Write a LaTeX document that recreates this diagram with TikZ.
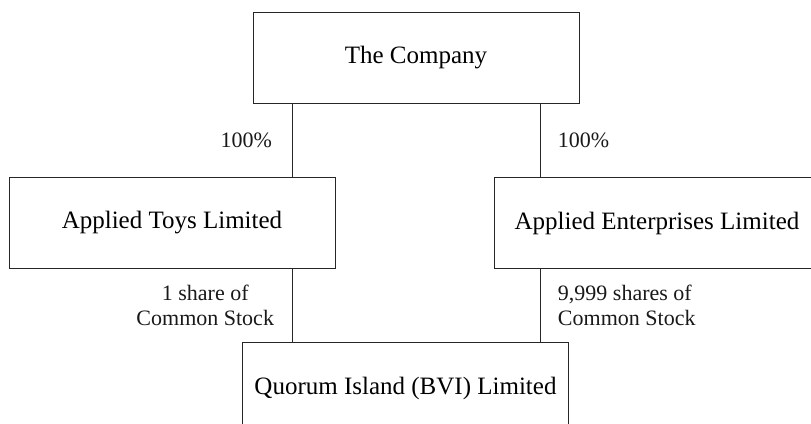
\documentclass[tikz,border=0pt]{standalone}
\usepackage{fontspec}
\setmainfont{Liberation Serif}
\usetikzlibrary{positioning}

\begin{document}
\begin{tikzpicture}[
		entity/.style={rectangle, draw=black!85, line width=0.5pt, minimum width=163pt, minimum height=45.5pt, inner sep=0pt, font=\fontsize{12.5}{15}\selectfont},
		holding/.style={font=\fontsize{11}{12.5}\selectfont, align=center, inner sep=0pt, text=black!90},
		link/.style={draw=black!85, line width=0.5pt}
		]
		\useasboundingbox (0,0) rectangle (405.5pt,-212pt);
		\clip (0,0) rectangle (405.5pt,-212pt);
		\node [entity] (company) at (208pt,-29pt) {The Company};
		\node [entity] (toys) [below=36.5pt of company, xshift=-122pt] {Applied Toys Limited};
		\node [entity] (enterprises) [below=36.5pt of company, xshift=120.5pt] {Applied Enterprises Limited};
		\node [entity] (quorum) [below=36.5pt of toys, xshift=116.75pt] {Quorum Island (BVI) Limited};
		
		\coordinate (left line) at ([xshift=20pt]company.south west);
		\coordinate (right line) at ([xshift=-19.5pt]company.south east);
		
		\path [link] (left line) -- (left line |- toys.north) node [holding, midway, left=10pt] {100\%};
		\path [link] (right line) -- (right line |- enterprises.north) node [holding, midway, right=8.5pt] {100\%};
		\path [link] (left line |- toys.south) -- (left line |- quorum.north) node [holding, midway, left=9pt] {1 share of\\Common Stock};
		\path [link] (right line |- enterprises.south) -- (right line |- quorum.north) node [holding, midway, right=8.5pt, align=left] {9,999 shares of\\Common Stock};
	\end{tikzpicture}
\end{document}
